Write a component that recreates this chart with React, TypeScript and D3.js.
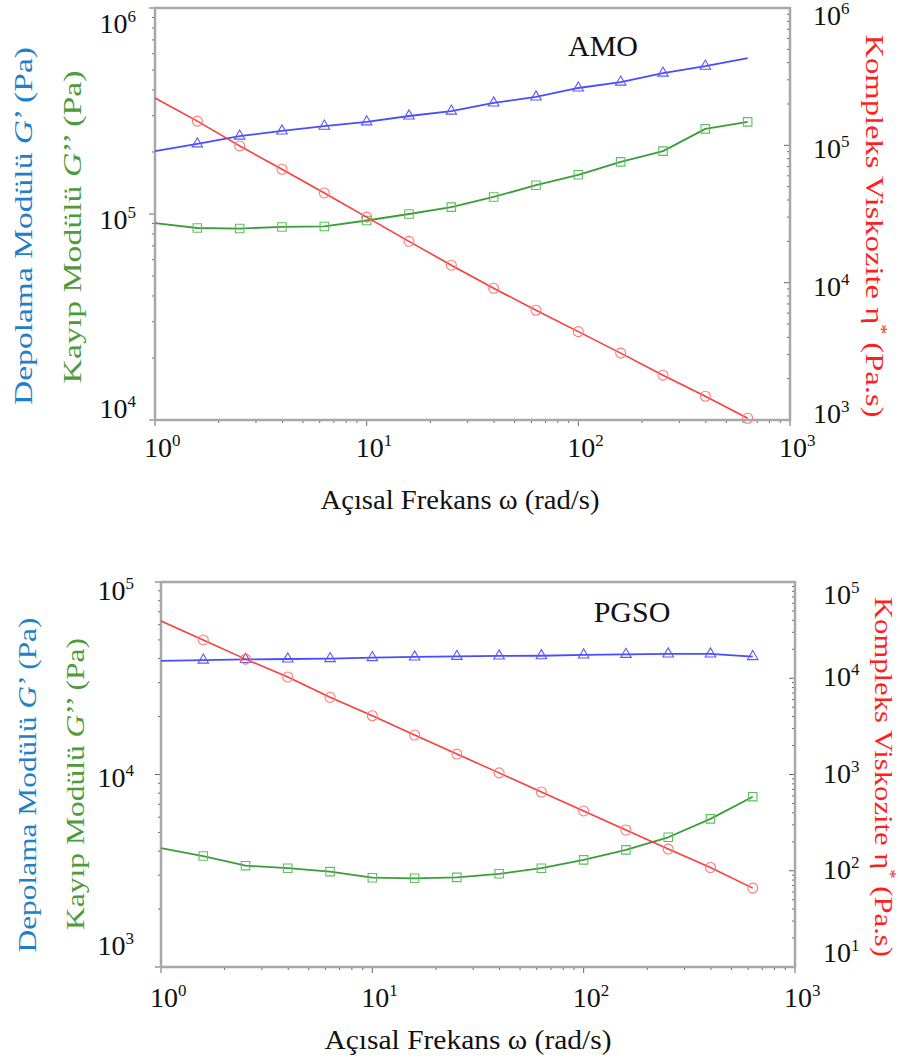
import React, { useEffect, useRef } from 'react';
import * as d3 from 'd3';

// angular frequency (rad/s), 5 points per decade
const freq = [1, 1.585, 2.512, 3.981, 6.31, 10, 15.85, 25.12, 39.81, 63.1, 100, 158.5, 251.2, 398.1, 631];

// AMO
const amoStorage = [2.02e5, 2.19e5, 2.39e5, 2.53e5, 2.67e5, 2.8e5, 2.99e5, 3.16e5, 3.46e5, 3.7e5, 4.09e5, 4.37e5, 4.83e5, 5.22e5, 5.71e5];
const amoLoss = [9.04e4, 8.55e4, 8.5e4, 8.65e4, 8.7e4, 9.3e4, 1.0e5, 1.08e5, 1.21e5, 1.38e5, 1.55e5, 1.79e5, 2.02e5, 2.59e5, 2.8e5];
const amoVisc = [2.21e5, 1.5e5, 9.9e4, 6.7e4, 4.5e4, 3.0e4, 2.0e4, 1.34e4, 9.1e3, 6.3e3, 4.4e3, 3.07e3, 2.12e3, 1.49e3, 1.03e3];

// PGSO
const pgsoStorage = [3.89e4, 3.93e4, 3.96e4, 3.98e4, 4.0e4, 4.05e4, 4.08e4, 4.11e4, 4.13e4, 4.14e4, 4.18e4, 4.21e4, 4.23e4, 4.23e4, 4.1e4];
const pgsoLoss = [4150, 3770, 3360, 3260, 3130, 2910, 2890, 2920, 3050, 3260, 3600, 4060, 4720, 5880, 7670];
const pgsoVisc = [39300, 25000, 15800, 10300, 6340, 4080, 2570, 1630, 1040, 658, 418, 265, 168, 108, 66];

// tick label exponents
const xTickExps = [0, 1, 2, 3];
const amoLeftExps = [4, 5, 6];
const amoRightExps = [3, 4, 5, 6];
const pgsoLeftExps = [3, 4, 5];
const pgsoRightExps = [1, 2, 3, 4, 5];

const xTitle = 'Açısal Frekans ω (rad/s)';

const BLUE = '#4b4bff';
const GREEN = '#3c9c3c';
const RED = '#ff3b3b';
const FONT = "'Liberation Serif', 'Times New Roman', 'DejaVu Serif', serif";

const panels = [
  {
    name: 'AMO', x0: 155, x1: 790, y0: 8, y1: 420,
    left: [1e4, 1e6], right: [1e3, 1e6],
    leftExps: amoLeftExps, rightExps: amoRightExps,
    storage: amoStorage, loss: amoLoss, visc: amoVisc, storageNoMarker: [14],
    labelX: 603, labelY: 56,
    leftLblX: 136, rightLblX: 813, xLblY: 457,
    leftOff: 15, leftMin: 25, leftMax: -2,
    rightOff: 13, rightMin: 17, rightMax: 3,
    blueT: [23, 226, 358], greenT: [72, 227, 313], redT: [875, 226, 383],
    xTitleY: 509, xTitleX: 460, xTitleLen: 279,
  },
  {
    name: 'PGSO', x0: 161, x1: 795, y0: 582, y1: 967,
    left: [1e3, 1e5], right: [1e1, 1e5],
    leftExps: pgsoLeftExps, rightExps: pgsoRightExps,
    storage: pgsoStorage, loss: pgsoLoss, visc: pgsoVisc, storageNoMarker: [],
    labelX: 632, labelY: 622,
    leftLblX: 134, rightLblX: 823, xLblY: 1007,
    leftOff: 12, leftMin: 18, leftMax: -12,
    rightOff: 8, rightMin: 22, rightMax: -5,
    blueT: [27, 785, 335], greenT: [75, 784, 292], redT: [884, 777, 360],
    xTitleY: 1049, xTitleX: 468, xTitleLen: 287,
  },
];

function pow10(g, x, y, exp, anchor) {
  const t = g.append('text')
    .attr('x', x).attr('y', y)
    .attr('text-anchor', anchor)
    .style('font-family', FONT)
    .style('font-size', '28px')
    .attr('fill', '#111');
  t.append('tspan').text('10');
  t.append('tspan').attr('dy', -11).style('font-size', '17px').text(exp);
}

function drawPanel(svg, p) {
  const x = d3.scaleLog().domain([1, 1000]).range([p.x0, p.x1]);
  const yL = d3.scaleLog().domain(p.left).range([p.y1, p.y0]);
  const yR = d3.scaleLog().domain(p.right).range([p.y1, p.y0]);
  const g = svg.append('g');
  const isMajor = (t) => Math.abs(Math.log10(t) - Math.round(Math.log10(t))) < 1e-6;

  // ticks
  x.ticks().forEach((t) => {
    const len = isMajor(t) ? 6 : 3;
    g.append('line').attr('x1', x(t)).attr('x2', x(t))
      .attr('y1', p.y1).attr('y2', p.y1 + len)
      .attr('stroke', '#666').attr('stroke-width', 1);
  });
  yL.ticks().forEach((t) => {
    const len = isMajor(t) ? 6 : 3;
    g.append('line').attr('x1', p.x0).attr('x2', p.x0 - len)
      .attr('y1', yL(t)).attr('y2', yL(t))
      .attr('stroke', '#666').attr('stroke-width', 1);
  });
  yR.ticks().forEach((t) => {
    const len = isMajor(t) ? 6 : 3;
    g.append('line').attr('x1', p.x1).attr('x2', p.x1 - len)
      .attr('y1', yR(t)).attr('y2', yR(t))
      .attr('stroke', '#666').attr('stroke-width', 1);
  });

  // frame
  g.append('rect')
    .attr('x', p.x0).attr('y', p.y0)
    .attr('width', p.x1 - p.x0).attr('height', p.y1 - p.y0)
    .attr('fill', 'none').attr('stroke', '#a8a8a8').attr('stroke-width', 2.5);

  // tick labels
  xTickExps.forEach((e) => pow10(g, x(Math.pow(10, e)) - 11, p.xLblY, e, 'start'));
  p.leftExps.forEach((e) => {
    const yy = Math.max(p.y0 + p.leftMin, Math.min(p.y1 + p.leftMax, yL(Math.pow(10, e)) + p.leftOff));
    pow10(g, p.leftLblX, yy, e, 'end');
  });
  p.rightExps.forEach((e) => {
    const yy = Math.max(p.y0 + p.rightMin, Math.min(p.y1 + p.rightMax, yR(Math.pow(10, e)) + p.rightOff));
    pow10(g, p.rightLblX, yy, e, 'start');
  });

  // series
  const series = [
    { vals: p.storage, y: yL, color: BLUE, mcolor: '#5a5aff', sym: d3.symbolTriangle, size: 48, skip: p.storageNoMarker, w: 1.8 },
    { vals: p.loss, y: yL, color: GREEN, mcolor: '#5fbf5f', sym: d3.symbolSquare, size: 72, skip: [], w: 1.8 },
    { vals: p.visc, y: yR, color: RED, mcolor: '#ff7a7a', sym: d3.symbolCircle, size: 78, skip: [], w: 1.6 },
  ];
  series.forEach((s) => {
    const pts = freq.map((f, i) => [f, s.vals[i]]);
    const line = d3.line()
      .x((d) => x(d[0]))
      .y((d) => s.y(d[1]));
    g.append('path').attr('d', line(pts))
      .attr('fill', 'none').attr('stroke', s.color).attr('stroke-width', s.w)
      .attr('stroke-linejoin', 'round');
    const sym = d3.symbol().type(s.sym).size(s.size);
    pts.forEach((d, i) => {
      if (i === 0 || s.skip.includes(i)) return;
      g.append('path').attr('d', sym())
        .attr('transform', `translate(${x(d[0])},${s.y(d[1])})`)
        .attr('fill', 'none').attr('stroke', s.mcolor).attr('stroke-width', 1.1);
    });
  });

  // panel label
  g.append('text').attr('x', p.labelX).attr('y', p.labelY)
    .attr('text-anchor', 'middle')
    .style('font-family', FONT)
    .style('font-size', '30px').attr('fill', '#111').text(p.name);

  // axis titles
  const bt = g.append('text')
    .attr('transform', `translate(${p.blueT[0]},${p.blueT[1]}) rotate(-90)`)
    .attr('text-anchor', 'middle').attr('dy', '0.35em')
    .style('font-family', FONT).style('font-size', '26px').attr('fill', '#1f7fc8')
    .attr('textLength', p.blueT[2]).attr('lengthAdjust', 'spacingAndGlyphs');
  bt.append('tspan').text('Depolama Modülü ');
  bt.append('tspan').style('font-style', 'italic').text('G');
  bt.append('tspan').text('’ (Pa)');

  const gt = g.append('text')
    .attr('transform', `translate(${p.greenT[0]},${p.greenT[1]}) rotate(-90)`)
    .attr('text-anchor', 'middle').attr('dy', '0.35em')
    .style('font-family', FONT).style('font-size', '26px').attr('fill', '#4f9a3a')
    .attr('textLength', p.greenT[2]).attr('lengthAdjust', 'spacingAndGlyphs');
  gt.append('tspan').text('Kayıp Modülü ');
  gt.append('tspan').style('font-style', 'italic').text('G');
  gt.append('tspan').text('’’ (Pa)');

  const rt = g.append('text')
    .attr('transform', `translate(${p.redT[0]},${p.redT[1]}) rotate(90)`)
    .attr('text-anchor', 'middle').attr('dy', '0.35em')
    .style('font-family', FONT).style('font-size', '26px').attr('fill', '#ff1f1f')
    .attr('textLength', p.redT[2]).attr('lengthAdjust', 'spacingAndGlyphs');
  rt.append('tspan').text('Kompleks Viskozite η');
  rt.append('tspan').attr('dy', -10).style('font-size', '16px').text('*');
  rt.append('tspan').attr('dy', 10).text(' (Pa.s)');

  g.append('text').attr('x', p.xTitleX).attr('y', p.xTitleY)
    .attr('text-anchor', 'middle')
    .style('font-family', FONT).style('font-size', '28px').attr('fill', '#111')
    .attr('textLength', p.xTitleLen).attr('lengthAdjust', 'spacingAndGlyphs')
    .text(xTitle);
}

const App = () => {
  const chartRef = useRef(null);

  useEffect(() => {
    const svg = d3.select(chartRef.current);
    svg.selectAll('*').remove();
    panels.forEach((p) => drawPanel(svg, p));
  }, []);

  return (
    <svg
      ref={chartRef}
      width={900}
      height={1063}
      style={{ position: 'absolute', left: 0, top: 0, background: '#fff' }}
    />
  );
};

export default App;
